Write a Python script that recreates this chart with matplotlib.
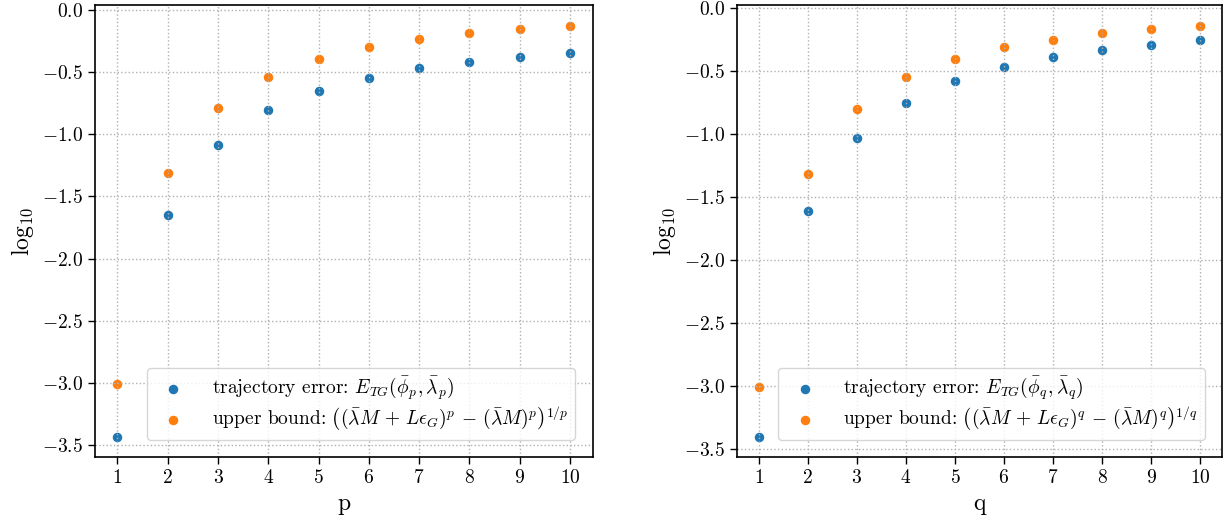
import matplotlib
matplotlib.use("Agg")
import matplotlib.pyplot as plt

plt.rcParams["font.family"] = "serif"
plt.rcParams["font.serif"] = ["cmr10"]
plt.rcParams["mathtext.fontset"] = "cm"
plt.rcParams["axes.formatter.use_mathtext"] = True
plt.rcParams["axes.unicode_minus"] = True

orders = list(range(1, 11))

# left panel (p)
traj_p = [-3.43, -1.65, -1.09, -0.81, -0.65, -0.55, -0.47, -0.42, -0.38, -0.345]
bound_p = [-3.01, -1.31, -0.79, -0.54, -0.40, -0.30, -0.24, -0.19, -0.155, -0.13]

# right panel (q)
traj_q = [-3.40, -1.61, -1.03, -0.75, -0.58, -0.47, -0.39, -0.33, -0.29, -0.25]
bound_q = [-3.01, -1.32, -0.80, -0.55, -0.40, -0.31, -0.25, -0.20, -0.165, -0.14]

panels = [
    ("p", traj_p, bound_p),
    ("q", traj_q, bound_q),
]

fig = plt.figure(figsize=(12.32, 5.26), dpi=100)
positions = [[0.077, 0.131, 0.404, 0.859], [0.598, 0.131, 0.394, 0.859]]

for pos, (var, traj, bound) in zip(positions, panels):
    ax = fig.add_axes(pos)
    ax.scatter(orders, traj, s=34, color="#1f77b4",
               label=r"trajectory error: $E_{TG}(\bar{\phi}_%s, \bar{\lambda}_%s)$" % (var, var))
    ax.scatter(orders, bound, s=34, color="#ff7f0e",
               label=r"upper bound: $\left((\bar{\lambda}M\,+\,L\epsilon_G)^%s\,-\,(\bar{\lambda}M)^%s\right)^{1/%s}$" % (var, var, var))
    ax.set_xticks(orders)
    ax.set_yticks([0.0, -0.5, -1.0, -1.5, -2.0, -2.5, -3.0, -3.5])
    ax.grid(True, linestyle=":", color="#b0b0b0", linewidth=1.0)
    ax.tick_params(labelsize=14, width=1.0, length=5)
    ax.set_xlabel(var, fontsize=17)
    ax.set_ylabel(r"$\log_{10}$", fontsize=17)
    for s in ax.spines.values():
        s.set_linewidth(1.2)
    ax.legend(loc="lower right", fontsize=14, borderaxespad=0.9,
              handletextpad=1.0, borderpad=0.35, labelspacing=0.1)

fig.savefig("out.png", dpi=100)
